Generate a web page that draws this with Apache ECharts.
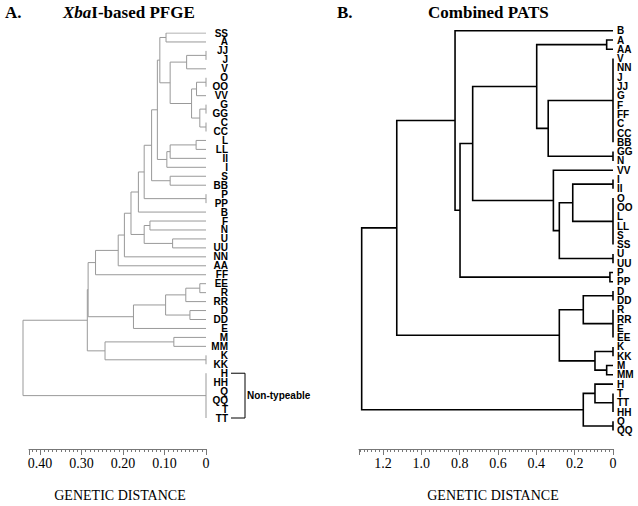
<!DOCTYPE html>
<html><head><meta charset="utf-8">
<script src="https://cdn.jsdelivr.net/npm/echarts@6/dist/echarts.min.js"></script>
<style>html,body{margin:0;padding:0;background:#fff}#c{width:638px;height:506px}</style>
</head><body><div id="c"></div>
<script>
// ---------- DATA ----------
// Panel A: XbaI-based PFGE (leaf order top to bottom)
const leftLeaves = ['SS','A','JJ','J','V','O','OO','VV','G','GG','C','CC','L','LL','II','I','S','BB','P','PP','B','F','N','U','UU','NN','AA','FF','EE','R','RR','D','DD','E','M','MM','K','KK','H','HH','Q','QQ','T','TT'];
// merges: children are leaf names or indices of earlier merges
const leftMergeChildren = [
  ['SS','A'], ['JJ','J'], [1,'V'], ['O','OO'], [3,'VV'], ['G','GG'], ['C','CC'], [5,6], [4,7], [2,8],
  [0,9], ['L','LL'], [11,'II'], [12,'I'], [10,13], ['S','BB'], [14,15], ['P','PP'], [16,17], [18,'B'],
  ['F','N'], ['U','UU'], [20,21], [19,22], [23,'NN'], [24,'AA'], [25,'FF'], ['EE','R'], [27,'RR'], ['D','DD'],
  [28,29], [30,'E'], [26,31], ['M','MM'], ['K','KK'], [33,34], [32,35], ['H','HH','Q','QQ','T','TT'], [36,37]
];
const leftMergeHeights = [
  0.097, 0, 0.047, 0, 0.023, 0, 0, 0.015, 0.035, 0.087,
  0.112, 0.024, 0.087, 0.095, 0.118, 0.087, 0.132, 0, 0.150, 0.164,
  0.136, 0.081, 0.150, 0.182, 0.198, 0.213, 0.268, 0.015, 0.049, 0.039,
  0.098, 0.176, 0.286, 0.078, 0, 0.245, 0.288, 0, 0.444
];
const leftAxisMax = 0.4267;
const leftTickStep = 0.1;

// Panel B: Combined PATS
const rightLeaves = ['B','A','AA','V','NN','J','JJ','G','F','FF','C','CC','BB','GG','N','VV','I','II','O','OO','L','LL','S','SS','U','UU','P','PP','D','DD','R','RR','E','EE','K','KK','M','MM','H','T','TT','HH','Q','QQ'];
const rightMergeChildren = [
  ['A','AA'], ['V','NN','J','JJ','G','F','FF','C','CC','BB'], ['GG','N'], [1,2], [0,3],
  ['I','II'], ['O','OO','L','LL','S','SS'], [5,6], ['U','UU'], [7,8],
  ['VV',9], [4,10], ['P','PP'], [11,12], ['B',13],
  ['D','DD'], ['R','RR','E','EE'], [15,16], ['K','KK'], ['M','MM'],
  [18,19], [17,20], [14,21], ['T','TT','HH'], ['H',23],
  ['Q','QQ'], [24,25], [22,26]
];
const rightMergeHeights = [
  0.033, 0, 0, 0.338, 0.398,
  0, 0, 0.21, 0, 0.28,
  0.311, 0.732, 0.016, 0.798, 0.824,
  0, 0, 0.155, 0, 0.033,
  0.094, 0.28, 1.128, 0, 0.094,
  0, 0.155, 1.311
];
const rightAxisMax = 1.325;
const rightTickStep = 0.2;

const nonTypeable = ['H','TT'];

// ---------- BUILD ----------
function buildTree(leaves, children, heights) {
  const pos = {};
  leaves.forEach((n, i) => pos[n] = {y: i, h: 0});
  const lines = [];
  children.forEach((ch, k) => {
    const H = heights[k];
    const cs = ch.map(c => typeof c === 'number' ? pos['#' + c] : pos[c]);
    const ys = cs.map(c => c.y);
    const ymin = Math.min.apply(null, ys), ymax = Math.max.apply(null, ys);
    if (cs.length === 2) {
      lines.push([[cs[0].h, cs[0].y], [H, cs[0].y], [H, cs[1].y], [cs[1].h, cs[1].y]]);
    } else {
      lines.push([[H, ymin], [H, ymax]]);
      cs.forEach(c => { if (c.h < H) lines.push([[c.h, c.y], [H, c.y]]); });
    }
    pos['#' + k] = {y: (ymin + ymax) / 2, h: H};
  });
  return lines;
}
const leftLines = buildTree(leftLeaves, leftMergeChildren, leftMergeHeights);
const rightLines = buildTree(rightLeaves, rightMergeChildren, rightMergeHeights);
const leftRootH = Math.max.apply(null, leftMergeHeights);

const chart = echarts.init(document.getElementById('c'), null, {renderer: 'svg'});
const leafFont = '"Liberation Sans Narrow","Arial Narrow","Liberation Sans",Arial,sans-serif';
const serif = '"Liberation Serif","Times New Roman",serif';

function scaleAxis(gi, max, step, digits, color) {
  return {
    gridIndex: gi, type: 'value', min: 0, max: max, inverse: true, interval: step,
    axisLine: {show: true, lineStyle: {color: color, width: 1}},
    axisTick: {show: true, length: 6, lineStyle: {color: color}},
    minorTick: {show: true, splitNumber: 10, length: 3, lineStyle: {color: color}},
    splitLine: {show: false}, minorSplitLine: {show: false},
    axisLabel: {
      margin: 7, showMaxLabel: false, color: '#000', fontFamily: serif, fontSize: 14,
      formatter: v => (Math.abs(v) < 1e-9 ? '0' : v.toFixed(digits))
    }
  };
}

chart.setOption({
  animation: false,
  grid: [
    {left: 23, right: 432, top: 33, bottom: 88},
    {left: 29, right: 432, top: 439, bottom: 57},
    {left: 359, right: 25, top: 30.7, bottom: 75.4},
    {left: 359, right: 25, top: 439, bottom: 57}
  ],
  xAxis: [
    {gridIndex: 0, type: 'value', min: 0, max: leftRootH, inverse: true, show: false},
    scaleAxis(1, leftAxisMax, leftTickStep, 2, '#777'),
    {gridIndex: 2, type: 'value', min: 0, max: rightAxisMax, inverse: true, show: false},
    scaleAxis(3, rightAxisMax, rightTickStep, 1, '#777')
  ],
  yAxis: [
    {gridIndex: 0, type: 'value', min: 0, max: leftLeaves.length - 1, inverse: true, show: false},
    {gridIndex: 0, type: 'category', data: leftLeaves, inverse: true, boundaryGap: false, position: 'right',
      axisLine: {show: false}, axisTick: {show: false},
      axisLabel: {interval: 0, margin: 22, align: 'right', color: '#000', fontWeight: 'bold', fontSize: 10, lineHeight: 9, fontFamily: leafFont}},
    {gridIndex: 1, type: 'value', show: false},
    {gridIndex: 2, type: 'value', min: 0, max: rightLeaves.length - 1, inverse: true, show: false},
    {gridIndex: 2, type: 'category', data: rightLeaves, inverse: true, boundaryGap: false, position: 'right',
      axisLine: {show: false}, axisTick: {show: false},
      axisLabel: {interval: 0, margin: 4, align: 'left', color: '#000', fontWeight: 'bold', fontSize: 10, lineHeight: 9, fontFamily: leafFont}},
    {gridIndex: 3, type: 'value', show: false}
  ],
  series: [
    {type: 'lines', coordinateSystem: 'cartesian2d', xAxisIndex: 0, yAxisIndex: 0, polyline: true, silent: true,
      data: leftLines.map(c => ({coords: c})), lineStyle: {color: '#999', width: 1, opacity: 1}},
    {type: 'lines', coordinateSystem: 'cartesian2d', xAxisIndex: 2, yAxisIndex: 3, polyline: true, silent: true,
      data: rightLines.map(c => ({coords: c})), lineStyle: {color: '#000', width: 1.6, opacity: 1}}
  ]
});

// bracket for non-typeable strains
const yTop = chart.convertToPixel({xAxisIndex: 0, yAxisIndex: 0}, [0, leftLeaves.indexOf(nonTypeable[0])])[1];
const yBot = chart.convertToPixel({xAxisIndex: 0, yAxisIndex: 0}, [0, leftLeaves.indexOf(nonTypeable[1])])[1];
const bx = 245;
chart.setOption({
  graphic: [
    {type: 'text', style: {x: 5, y: 12, text: 'A.', font: 'bold 17px ' + serif, fill: '#000', verticalAlign: 'middle'}},
    {type: 'text', style: {x: 63, y: 12, text: '{i|Xba}{n|I-based PFGE}', verticalAlign: 'middle', fill: '#000',
      rich: {i: {fontFamily: serif, fontWeight: 'bold', fontStyle: 'italic', fontSize: 17}, n: {fontFamily: serif, fontWeight: 'bold', fontSize: 17}}}},
    {type: 'text', style: {x: 337, y: 12, text: 'B.', font: 'bold 17px ' + serif, fill: '#000', verticalAlign: 'middle'}},
    {type: 'text', style: {x: 428, y: 12, text: 'Combined PATS', font: 'bold 17px ' + serif, fill: '#000', verticalAlign: 'middle'}},
    {type: 'text', style: {x: 120, y: 495, text: 'GENETIC DISTANCE', font: '14px ' + serif, fill: '#000', align: 'center', verticalAlign: 'middle'}},
    {type: 'text', style: {x: 493, y: 495, text: 'GENETIC DISTANCE', font: '14px ' + serif, fill: '#000', align: 'center', verticalAlign: 'middle'}},
    {type: 'polyline', shape: {points: [[231, yTop], [bx, yTop], [bx, yBot], [231, yBot]]}, style: {stroke: '#000', lineWidth: 1, fill: null}},
    {type: 'text', style: {x: bx + 2, y: (yTop + yBot) / 2, text: 'Non-typeable', font: 'bold 10px "Liberation Sans",Arial,sans-serif', fill: '#000', verticalAlign: 'middle'}}
  ]
});
</script>
</body></html>
